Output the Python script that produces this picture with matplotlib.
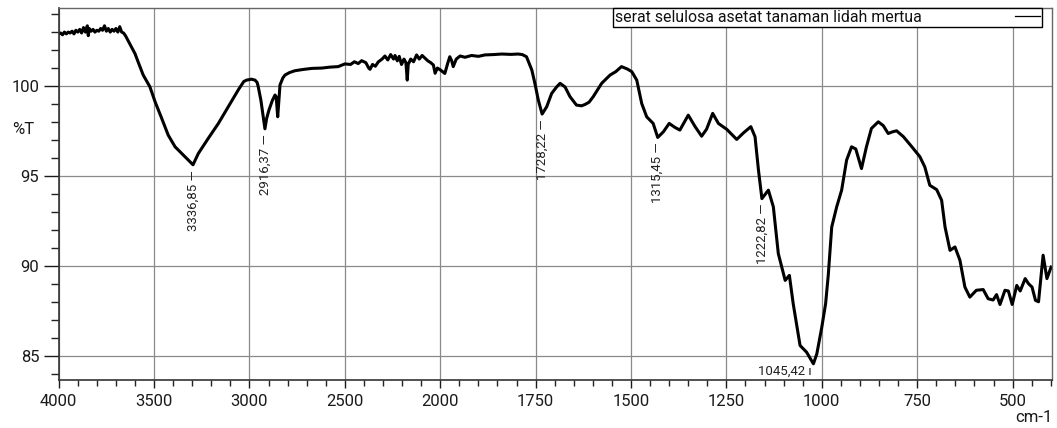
import numpy as np
import matplotlib
matplotlib.use("Agg")
import matplotlib.pyplot as plt
from matplotlib.lines import Line2D

plt.rcParams['font.family'] = ['Roboto', 'DejaVu Sans']

# ---------------- data ----------------
wavenumber = [
    4000, 3990, 3980, 3970, 3960, 3950, 3940, 3930, 3920, 3910, 3900, 3890, 3880, 3870,
    3860, 3850, 3845, 3840, 3830, 3820, 3810, 3800, 3790, 3780, 3770, 3760, 3750, 3740,
    3730, 3720, 3710, 3700, 3690, 3680, 3670, 3660, 3650, 3635, 3619, 3600, 3584, 3557,
    3522, 3495, 3460, 3426, 3390, 3347, 3303, 3296, 3268, 3216, 3163, 3111, 3059, 3030,
    3015, 2990, 2971, 2960, 2954, 2940, 2928, 2919, 2910, 2898, 2880, 2866, 2860, 2852,
    2846, 2840, 2825, 2814, 2790, 2762, 2720, 2674, 2620, 2580, 2535, 2500, 2470, 2450,
    2430, 2412, 2390, 2375, 2368, 2355, 2340, 2325, 2305, 2290, 2275, 2260, 2245, 2237,
    2225, 2215, 2203, 2190, 2180, 2173, 2168, 2155, 2140, 2124, 2110, 2095, 2080, 2065,
    2050, 2036, 2027, 2015, 2000, 1988, 1980, 1975, 1970, 1966, 1958, 1948, 1935, 1918,
    1900, 1883, 1860, 1839, 1815, 1796, 1785, 1774, 1760, 1752, 1743, 1733, 1721, 1708,
    1695, 1686, 1673, 1660, 1643, 1630, 1621, 1610, 1599, 1577, 1555, 1540, 1525, 1510,
    1498, 1485, 1472, 1459, 1442, 1430, 1415, 1400, 1385, 1372, 1350, 1332, 1315, 1302,
    1286, 1271, 1249, 1223, 1205, 1186, 1175, 1166, 1157, 1140, 1127, 1114, 1096, 1085,
    1075, 1057, 1040, 1022, 1013, 1000, 990, 983, 974, 961, 948, 935, 922, 911,
    896, 883, 870, 852, 839, 826, 815, 804, 786, 764, 743, 730, 717, 699,
    686, 677, 664, 651, 638, 625, 612, 595, 577, 564, 551, 542, 533, 520,
    511, 501, 489, 480, 467, 458, 449, 440, 432, 420, 410, 399,
]
transmittance = [
    102.90, 102.95, 102.85, 103.00, 102.90, 103.00, 102.95, 103.05, 102.90, 103.10, 103.00, 103.15, 102.95, 103.25,
    103.00, 103.35, 102.80, 103.20, 103.05, 103.15, 103.00, 103.10, 103.05, 103.20, 103.10, 103.35, 103.05, 103.20,
    103.00, 103.15, 103.05, 103.20, 103.00, 103.30, 103.00, 102.95, 102.80, 102.50, 102.19, 101.80, 101.35, 100.61,
    99.96, 99.13, 98.20, 97.27, 96.62, 96.16, 95.69, 95.62, 96.25, 97.09, 97.92, 98.85, 99.78, 100.25,
    100.33, 100.38, 100.33, 100.20, 99.96, 99.20, 98.29, 97.62, 98.20, 98.66, 99.20, 99.50, 99.40, 98.29,
    99.20, 100.06, 100.45, 100.61, 100.75, 100.85, 100.92, 100.98, 101.00, 101.05, 101.08, 101.23, 101.20, 101.35,
    101.25, 101.41, 101.30, 101.00, 100.93, 101.20, 101.10, 101.34, 101.50, 101.67, 101.45, 101.75, 101.50, 101.70,
    101.40, 101.65, 101.20, 101.50, 101.30, 100.33, 101.20, 101.50, 101.35, 101.73, 101.50, 101.70, 101.55, 101.40,
    101.30, 101.17, 100.71, 101.00, 100.90, 100.70, 101.30, 101.63, 101.40, 101.08, 101.50, 101.67, 101.60, 101.70,
    101.65, 101.73, 101.75, 101.78, 101.76, 101.78, 101.75, 101.63, 100.89, 100.15, 99.22, 98.44, 98.85, 99.59,
    99.95, 100.15, 99.95, 99.41, 98.94, 98.90, 98.97, 99.10, 99.41, 100.15, 100.61, 100.80, 101.08, 100.95,
    100.80, 100.33, 99.03, 98.29, 97.92, 97.14, 97.46, 97.92, 97.70, 97.55, 98.38, 97.74, 97.21, 97.60,
    98.48, 97.92, 97.59, 97.03, 97.40, 97.74, 97.18, 95.32, 93.74, 94.21, 93.28, 90.68, 89.19, 89.47,
    87.90, 85.57, 85.20, 84.55, 85.11, 86.59, 87.90, 89.50, 92.16, 93.28, 94.21, 95.88, 96.62, 96.50,
    95.41, 96.62, 97.64, 98.01, 97.80, 97.36, 97.45, 97.51, 97.18, 96.62, 96.07, 95.50, 94.48, 94.24,
    93.65, 92.16, 90.86, 91.05, 90.31, 88.82, 88.26, 88.64, 88.68, 88.17, 88.10, 88.40, 87.85, 88.64,
    88.60, 87.85, 88.91, 88.60, 89.29, 89.00, 88.82, 88.08, 88.00, 90.59, 89.29, 89.93,
]
series_label = "serat selulosa asetat tanaman lidah mertua"

peak_labels = ["3336,85", "2916,37", "1728,22", "1315,45", "1222,82"]
peak_wn = [3296, 2919, 1733, 1430, 1157]
peak_t = [95.62, 97.62, 98.44, 97.14, 93.74]
last_peak_label = "1045,42"
last_peak_wn = 1022
last_peak_t = 84.55

x_major = [4000, 3500, 3000, 2500, 2000, 1750, 1500, 1250, 1000, 750, 500]
y_major = [85, 90, 95, 100]


# ------------- piecewise wavenumber scale (x2 expansion below 2000) -------------
def fwd(x):
    x = np.asarray(x, dtype=float)
    return np.where(x > 2000, 2000 + (x - 2000) / 2.0, x)


def inv(p):
    p = np.asarray(p, dtype=float)
    return np.where(p > 2000, 2000 + (p - 2000) * 2.0, p)


W, H = 1057, 428
fig = plt.figure(figsize=(W / 100, H / 100), dpi=100)
ax = fig.add_axes([58.7 / W, 1 - 380 / H, (1051.5 - 58.7) / W, (380 - 8) / H])

ax.plot(wavenumber, transmittance, color='black', lw=2.2, solid_joinstyle='round')

ax.set_xscale('function', functions=(fwd, inv))
ax.set_xlim(4000, 398)
ax.set_ylim(83.65, 104.34)

ax.set_xticks(x_major)
ax.set_xticklabels([str(v) for v in x_major])
xminor = [v for v in range(3900, 2000, -100) if v not in x_major] + \
         [v for v in range(1950, 398, -50) if v not in x_major]
ax.set_xticks(xminor, minor=True)
ax.set_yticks(y_major)
ax.set_yticklabels([str(v) for v in y_major])
ax.set_yticks([v for v in range(84, 105) if v not in y_major], minor=True)

ax.grid(True, which='major', color='#8a8a8a', lw=0.9)
ax.set_axisbelow(True)

ax.tick_params(axis='x', which='major', length=6, width=1, pad=4, labelsize=12, colors='#1a1a1a')
ax.tick_params(axis='x', which='minor', length=4, width=1, color='#222222')
ax.tick_params(axis='y', which='major', length=11, width=1, pad=3, labelsize=12, colors='#1a1a1a')
ax.tick_params(axis='y', which='minor', length=6, width=1, color='#222222')

for side in ['left', 'bottom']:
    ax.spines[side].set_color('#333333')
    ax.spines[side].set_linewidth(1.2)
for side in ['top', 'right']:
    ax.spines[side].set_color('#666666')
    ax.spines[side].set_linewidth(1.0)

fig.text(12 / W, 1 - 130 / H, "%T", ha='left', va='center', fontsize=12, color='#1a1a1a')
fig.text(1053 / W, 1 - 418 / H, "cm-1", ha='right', va='center', fontsize=12, color='#1a1a1a')

# peak labels
for lab, wn, t in zip(peak_labels, peak_wn, peak_t):
    ax.annotate(lab + " \u2014", xy=(wn, t), xytext=(0, -3.5), textcoords='offset points',
                rotation=90, ha='center', va='top', fontsize=9.5, color='#222222')
ax.annotate(last_peak_label + " \u0131", xy=(last_peak_wn, last_peak_t), xytext=(-1, -5.5),
            textcoords='offset points', ha='right', va='center', fontsize=9.5, color='#222222')

handle = Line2D([], [], color='black', lw=0.9)
leg = ax.legend([handle], [series_label], loc='upper right',
                bbox_to_anchor=(1042 / W, 1 - 8 / H), bbox_transform=fig.transFigure,
                borderaxespad=0, markerfirst=False, fancybox=False, framealpha=1,
                edgecolor='black', fontsize=11.4, handlelength=1.6, handletextpad=5.9,
                borderpad=0.12)
leg.get_frame().set_linewidth(1.0)
for txt in leg.get_texts():
    txt.set_color('#111111')

fig.savefig("out.png", dpi=100)
